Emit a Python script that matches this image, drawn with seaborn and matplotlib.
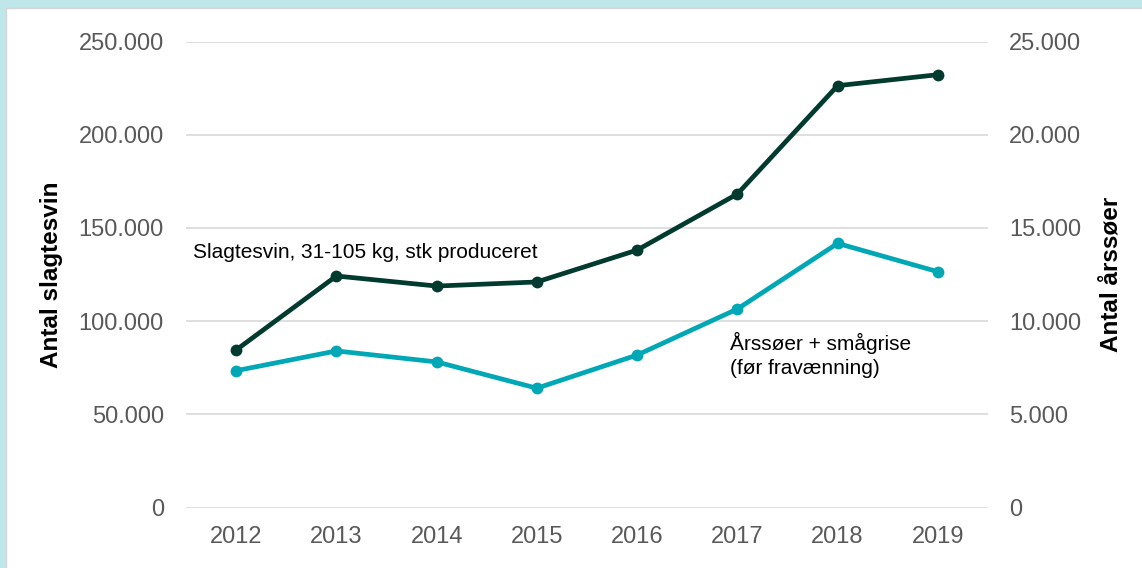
import matplotlib
matplotlib.use("Agg")
import matplotlib.pyplot as plt
import matplotlib.ticker as mticker
from matplotlib.patches import Rectangle
import seaborn as sns

# --- data ---
years = [2012, 2013, 2014, 2015, 2016, 2017, 2018, 2019]
slagtesvin = [84500, 124200, 118800, 121000, 138100, 168200, 226300, 232200]
aarssoer = [7340, 8400, 7810, 6400, 8180, 10650, 14170, 12650]

dark = "#013a2e"
teal = "#00a8b5"
grey_txt = "#595959"
grid_col = "#d9d9d9"


def dot_thousands(v, pos=None):
    return f"{int(round(v)):,}".replace(",", ".")


sns.set_theme(style="white")
plt.rcParams["font.family"] = ["Liberation Sans", "DejaVu Sans"]

fig = plt.figure(figsize=(11.42, 5.68), dpi=100)
fig.patch.set_facecolor("#bfe6e8")
# white card inside the light-blue frame (frame only shows on top and left)
fig.patches.append(Rectangle((6 / 1142, -0.01), 1.0, 1.01 - 8 / 568,
                             transform=fig.transFigure, facecolor="white",
                             edgecolor="#d6d6d6", linewidth=1, zorder=-10))

ax = fig.add_axes([186 / 1142, 60.5 / 568, 802 / 1142, 466 / 568])
ax.set_facecolor("none")
ax2 = ax.twinx()
ax2.set_facecolor("none")

sns.lineplot(x=years, y=slagtesvin, ax=ax, color=dark, linewidth=3.4,
             marker="o", markersize=8.5, markeredgewidth=0, clip_on=False)
sns.lineplot(x=years, y=aarssoer, ax=ax2, color=teal, linewidth=3.4,
             marker="o", markersize=8.5, markeredgewidth=0, clip_on=False)

ax.set_xlim(2011.5, 2019.5)
ax.set_ylim(0, 250000)
ax2.set_ylim(0, 25000)
ax.set_xticks(years)
ax.set_yticks(range(0, 250001, 50000))
ax2.set_yticks(range(0, 25001, 5000))
ax.yaxis.set_major_formatter(mticker.FuncFormatter(dot_thousands))
ax2.yaxis.set_major_formatter(mticker.FuncFormatter(dot_thousands))

ax.grid(axis="y", color=grid_col, linewidth=1.2)
ax.set_axisbelow(True)
for a in (ax, ax2):
    for s in a.spines.values():
        s.set_visible(False)
    a.tick_params(length=0, labelsize=17, labelcolor=grey_txt)
ax.tick_params(axis="y", pad=16)
ax2.tick_params(axis="y", pad=15)
ax.tick_params(axis="x", pad=13)

ax.set_ylabel("Antal slagtesvin", fontsize=17.5, fontweight="bold", color="black", labelpad=11)
ax2.set_ylabel("Antal årssøer", fontsize=17.5, fontweight="bold", color="black",
               rotation=90, labelpad=13)

ax.text(2012 - 0.43, 134000, "Slagtesvin, 31-105 kg, stk produceret",
        fontsize=15, color="black", va="baseline")
ax.text(2016.93, 94000, "Årssøer + smågrise\n(før fravænning)",
        fontsize=15, color="black", va="top", linespacing=1.3)

fig.savefig("out.png", dpi=100, facecolor=fig.get_facecolor())
